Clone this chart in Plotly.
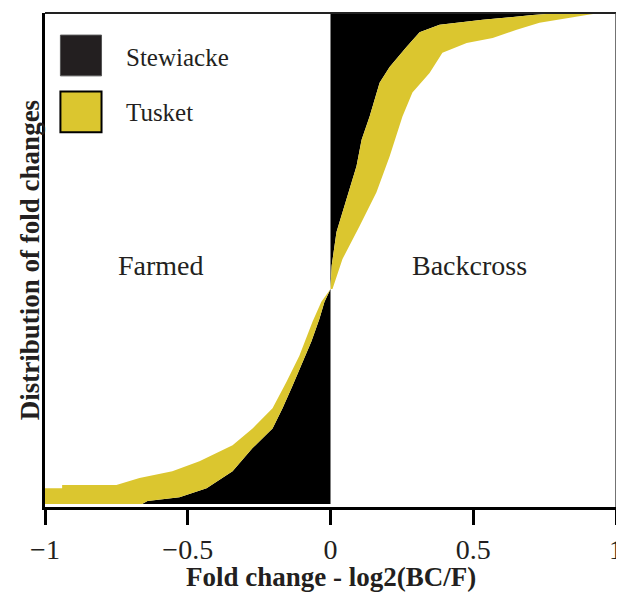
import plotly.graph_objects as go

# Cumulative distribution of fold changes (log2 BC/F)
stew_x = [-0.66, -0.641, -0.529, -0.434, -0.343, -0.273, -0.203, -0.168, -0.133, -0.098,
          -0.067, -0.039, -0.021, 0.0, 0.004, 0.021, 0.056, 0.091, 0.109, 0.137,
          0.172, 0.207, 0.266, 0.312, 0.382, 0.533, 0.708, 0.802]
stew_y = [0.0, 0.006, 0.014, 0.032, 0.067, 0.114, 0.154, 0.195, 0.241, 0.290,
          0.331, 0.377, 0.412, 0.438, 0.485, 0.554, 0.621, 0.688, 0.742, 0.789,
          0.858, 0.890, 0.931, 0.961, 0.976, 0.986, 0.996, 1.0]

tusk_x = [-1.2, -1.2, -0.94, -0.94, -0.75, -0.669, -0.554, -0.459, -0.343, -0.273,
          -0.203, -0.154, -0.109, -0.063, -0.032, 0.0, 0.007, 0.042, 0.102, 0.161,
          0.207, 0.252, 0.287, 0.347, 0.392, 0.477, 0.568, 0.652, 0.732, 0.827,
          0.897, 0.943]
tusk_y = [0.0, 0.032, 0.032, 0.039, 0.039, 0.053, 0.067, 0.087, 0.120, 0.154,
          0.195, 0.249, 0.302, 0.371, 0.412, 0.438, 0.438, 0.499, 0.566, 0.635,
          0.708, 0.789, 0.838, 0.878, 0.919, 0.939, 0.949, 0.966, 0.980, 0.990,
          0.996, 1.0]

tick_vals = [-1, -0.5, 0, 0.5, 1]
tick_text = ["\u22121", "\u22120.5", "0", "0.5", "1"]
series_names = ["Stewiacke", "Tusket"]
region_labels = ["Farmed", "Backcross"]

BLACK = "#000000"
YELLOW = "#DBC62F"
FONT = "Liberation Serif"
TXT = "#231F20"

fig = go.Figure()
fig.add_trace(go.Scatter(x=stew_x, y=stew_y, mode="lines", name=series_names[0],
                         line=dict(width=0, color=BLACK), fill="tozerox",
                         fillcolor=BLACK, showlegend=False))
fig.add_trace(go.Scatter(x=tusk_x, y=tusk_y, mode="lines", name=series_names[1],
                         line=dict(width=0, color=YELLOW), fill="tonextx",
                         fillcolor=YELLOW, showlegend=False))

# legend drawn as boxes + labels
fig.add_shape(type="rect", xref="x", yref="y", x0=-0.946, x1=-0.802, y0=0.872, y1=0.955,
              fillcolor="#231F20", line=dict(color="#555555", width=1))
fig.add_shape(type="rect", xref="x", yref="y", x0=-0.946, x1=-0.802, y0=0.757, y1=0.840,
              fillcolor=YELLOW, line=dict(color="#000000", width=2))
fig.add_annotation(x=-0.722, y=0.909, xref="x", yref="y", text=series_names[0],
                   showarrow=False, xanchor="left", yanchor="middle",
                   font=dict(family=FONT, size=25, color=TXT))
fig.add_annotation(x=-0.722, y=0.797, xref="x", yref="y", text=series_names[1],
                   showarrow=False, xanchor="left", yanchor="middle",
                   font=dict(family=FONT, size=25, color=TXT))

fig.add_annotation(x=-0.595, y=0.485, xref="x", yref="y", text=region_labels[0],
                   showarrow=False, font=dict(family=FONT, size=28, color=TXT))
fig.add_annotation(x=0.487, y=0.485, xref="x", yref="y", text=region_labels[1],
                   showarrow=False, font=dict(family=FONT, size=28, color=TXT))

# axis titles
fig.add_annotation(x=0.5, y=-0.108, xref="paper", yref="paper", yanchor="top",
                   xanchor="center", text="<b>Fold change - log2(BC/F)</b>",
                   showarrow=False, font=dict(family=FONT, size=27, color=TXT))
fig.add_annotation(x=-0.026, y=0.50, xref="paper", yref="paper", textangle=-90,
                   xanchor="center", yanchor="middle",
                   text="<b>Distribution of fold changes</b>", showarrow=False,
                   font=dict(family=FONT, size=27, color=TXT))

# top and right frame lines
fig.add_shape(type="line", xref="paper", yref="paper", x0=0, x1=1, y0=1, y1=1,
              line=dict(color="#222222", width=2))
fig.add_shape(type="line", xref="paper", yref="paper", x0=1, x1=1, y0=0, y1=1,
              line=dict(color="#444444", width=1.5))

fig.update_xaxes(range=[-1, 1], tickvals=tick_vals, ticktext=tick_text,
                 showline=True, linecolor="#000000", linewidth=3,
                 ticks="outside", ticklen=15, tickwidth=3, tickcolor="#000000",
                 showgrid=False, zeroline=False, automargin=False,
                 tickfont=dict(family=FONT, size=28, color=TXT))
fig.update_yaxes(range=[-0.006, 1.0], showline=True, linecolor="#000000", linewidth=3,
                 showticklabels=False, ticks="", showgrid=False, zeroline=False,
                 automargin=False)

fig.update_layout(width=616, height=587,
                  margin=dict(l=37, r=8, t=5, b=88, autoexpand=False),
                  paper_bgcolor="white", plot_bgcolor="white", showlegend=False)

fig.write_html("out.html")
